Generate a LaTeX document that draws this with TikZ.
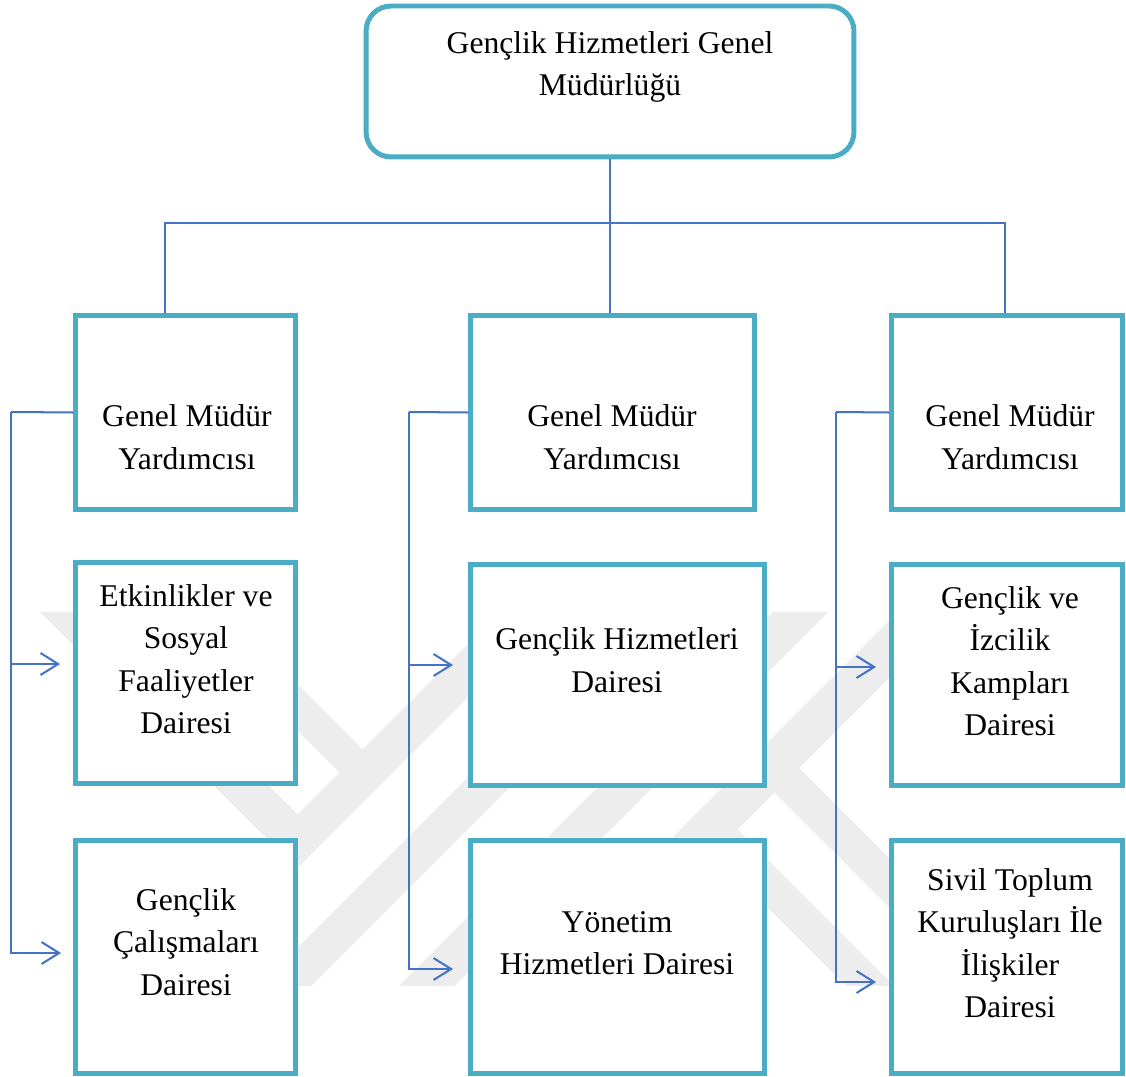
\documentclass[tikz,border=0pt]{standalone}
\usepackage{fontspec}
\setmainfont{Liberation Serif}
\usetikzlibrary{arrows.meta}
\definecolor{boxteal}{RGB}{75,172,198}
\definecolor{linkblue}{RGB}{68,114,196}
\definecolor{wmgray}{RGB}{237,237,237}
\begin{document}
\begin{tikzpicture}[x=0.02cm,y=-0.02cm,
  box/.style={draw=boxteal, line width=2.83pt, fill=white, inner sep=0pt},
  lbl/.style={align=center, font=\fontsize{18}{24.2}\selectfont, inner sep=0pt},
  conn/.style={draw=linkblue, line width=1.15pt},
  arr/.style={conn, -{Straight Barb[length=10pt,width=12.5pt]}},
  wm/.style={fill=wmgray, draw=none}]
\useasboundingbox (0,0) rectangle (1126,1077);
\fill[white] (0,0) rectangle (1126,1077);

% faint watermark
\begin{scope}
\clip (0,612) rectangle (1126,985);
\fill[wm] (40,612) -- (95,612) -- (324,841) -- (296.5,868.5) -- cycle;
\fill[wm] (179,612) -- (225,612) -- (376.5,763.5) -- (353.5,786.5) -- cycle;
\fill[wm] (500,612) -- (553,612) -- (165,1000) -- (112,1000) -- cycle;
\fill[wm] (633,612) -- (685,612) -- (297,1000) -- (245,1000) -- cycle;
\fill[wm] (773,612) -- (828,612) -- (440,1000) -- (385,1000) -- cycle;
\fill[wm] (898,612) -- (955,612) -- (567,1000) -- (510,1000) -- cycle;
\fill[wm] (746,764) -- (770.5,739.5) -- (1031,1000) -- (982,1000) -- cycle;
\fill[wm] (685,825) -- (709,801) -- (908,1000) -- (860,1000) -- cycle;
\end{scope}

% boxes
\node[box, rounded corners=0.5cm, minimum width=9.76cm, minimum height=3.02cm] (top) at (610,81.5) {};
\node[box, minimum width=4.4cm,  minimum height=3.88cm] (g1) at (185.5,412.5) {};
\node[box, minimum width=5.68cm, minimum height=3.88cm] (g2) at (612.5,412.5) {};
\node[box, minimum width=4.62cm, minimum height=3.88cm] (g3) at (1007,412.5) {};
\node[box, minimum width=4.4cm,  minimum height=4.41cm] (e1) at (185.5,673) {};
\node[box, minimum width=5.88cm, minimum height=4.41cm] (e2) at (617.5,675) {};
\node[box, minimum width=4.62cm, minimum height=4.41cm] (e3) at (1007,675) {};
\node[box, minimum width=4.4cm,  minimum height=4.66cm] (f1) at (185.5,957) {};
\node[box, minimum width=5.88cm, minimum height=4.66cm] (f2) at (617.5,957) {};
\node[box, minimum width=4.62cm, minimum height=4.66cm] (f3) at (1007,957) {};

% texts
\node[lbl] (ttop) at (610,67) {Gençlik Hizmetleri Genel\\Müdürlüğü};
\node[lbl] (tg1) at (187,437) {Genel Müdür\\Yardımcısı};
\node[lbl] (tg2) at (612,437) {Genel Müdür\\Yardımcısı};
\node[lbl] (tg3) at (1010,437) {Genel Müdür\\Yardımcısı};
\node[lbl] (te1) at (186,659) {Etkinlikler ve\\Sosyal\\Faaliyetler\\Dairesi};
\node[lbl] (te2) at (617,660) {Gençlik Hizmetleri\\Dairesi};
\node[lbl] (te3) at (1010,661) {Gençlik ve\\İzcilik\\Kampları\\Dairesi};
\node[lbl] (tf1) at (186,942) {Gençlik\\Çalışmaları\\Dairesi};
\node[lbl] (tf2) at (617,943) {Yönetim\\Hizmetleri Dairesi};
\node[lbl] (tf3) at (1010,943) {Sivil Toplum\\Kuruluşları İle\\İlişkiler\\Dairesi};

% top connectors
\coordinate (b1) at (165,223);
\coordinate (b3) at (1005,223);
\draw[conn] (top.south) -- (top.south |- g2.north);
\draw[conn] (g1.north -| b1) -- (b1) -- (b3) -- (g3.north -| b3);

% brackets
\coordinate (k1) at (11,412);
\coordinate (p11) at (60,664);
\coordinate (p12) at (61,953);
\coordinate (k2) at (409,412);
\coordinate (p21) at (453,665);
\coordinate (p22) at (453,969);
\coordinate (k3) at (836,412);
\coordinate (p31) at (876,667);
\coordinate (p32) at (876,982);

\draw[conn] (g1.west) -- (k1);
\draw[arr] (k1) |- (p12);
\draw[arr] (k1 |- p11) -- (p11);
\draw[conn] (g2.west) -- (k2);
\draw[arr] (k2) |- (p22);
\draw[arr] (k2 |- p21) -- (p21);
\draw[conn] (g3.west) -- (k3);
\draw[arr] (k3) |- (p32);
\draw[arr] (k3 |- p31) -- (p31);
\end{tikzpicture}
\end{document}
